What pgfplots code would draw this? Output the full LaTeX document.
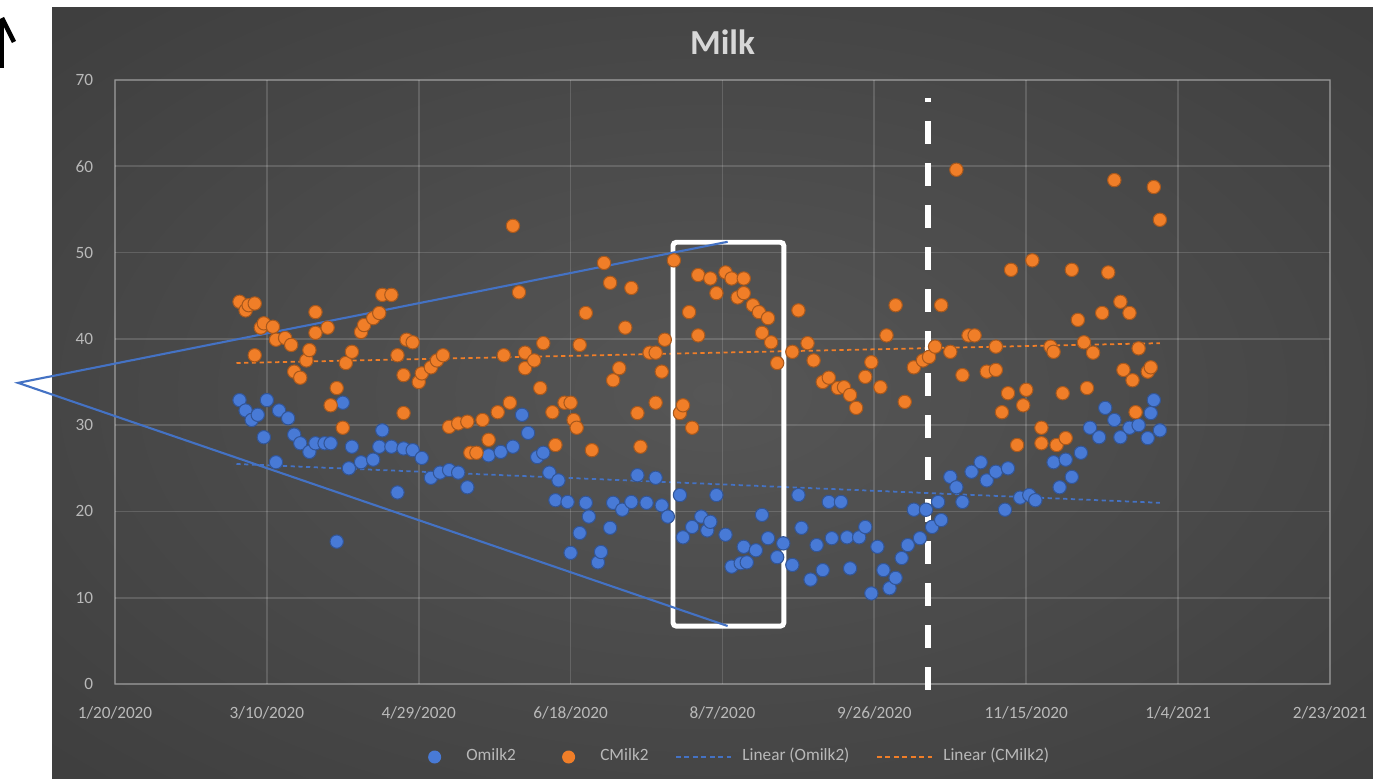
\documentclass[border=0pt]{standalone}
\usepackage{pgfplots}
\pgfplotsset{compat=1.18}
\usepackage{fontspec}
\setmainfont{Carlito}

\definecolor{cBlue}{RGB}{72,122,214}
\definecolor{cOrange}{RGB}{240,126,40}
\definecolor{tBlue}{RGB}{68,114,196}
\definecolor{bgC}{RGB}{86,86,86}
\definecolor{bgM}{RGB}{58,58,58}
\definecolor{bgE}{RGB}{36,36,36}
\definecolor{txt}{RGB}{185,185,185}
\definecolor{ttl}{RGB}{215,215,215}
\pgfdeclareradialshading{bgshade}{\pgfpoint{0bp}{0bp}}{color(0bp)=(bgC); color(42bp)=(bgM); color(72bp)=(bgE)}

\begin{document}
\begin{tikzpicture}
\useasboundingbox (0,0) rectangle (13.73,7.79);
\fill[white] (0,0) rectangle (13.73,7.79);
\shade[shading=bgshade] (0.52,0) rectangle (13.73,7.71);
% arrow in the corner
\draw[black, line width=1.3pt] (0.02,7.60) -- (0.02,7.11);
\draw[black, line width=1.3pt] (0.02,7.61) -- (0.14,7.37);

\begin{axis}[
    at={(1.15cm,0.95cm)}, anchor=south west,
    scale only axis,
    width=12.15cm, height=6.04cm,
    xmin=0, xmax=400, ymin=0, ymax=70,
    xtick={0,50,...,400},
    xticklabels={1/20/2020,3/10/2020,4/29/2020,6/18/2020,8/7/2020,9/26/2020,11/15/2020,1/4/2021,2/23/2021},
    ytick={0,10,...,70},
    grid=major,
    major grid style={white, opacity=0.15, line width=0.5pt},
    axis line style={white, opacity=0.2, line width=0.5pt},
    major tick length=0pt,
    tick label style={font=\fontsize{4.9}{6}\selectfont, text=txt},
    /pgf/number format/assume math mode=true,
    xticklabel style={anchor=base, yshift=-9.75pt},
    yticklabel style={anchor=east, xshift=-2.7pt},
    title={Milk},
    title style={font=\bfseries\fontsize{10}{12}\selectfont, text=ttl, at={(0.5,1)}, anchor=center, yshift=4.8pt},
    clip=false,
    legend style={at={(0.508,-0.1209)}, anchor=center, draw=none, fill=none,
        legend columns=4, font=\fontsize{4.9}{6}\selectfont, text=txt,
        /tikz/every odd column/.style={column sep=1pt},
        /tikz/every even column/.style={column sep=5.5pt}},
]
% Omilk2
\addplot[only marks, mark=*, mark size=1.9pt,
    mark options={fill=cBlue, draw=cBlue!70!black, line width=0.3pt},
    legend image code/.code={\path[draw=none] (-7.5pt,0) -- (6pt,0); \fill[cBlue, draw=none] (0,0) circle (1.85pt);}]
coordinates {
(41,32.9) (43,31.7) (45,30.6) (47,31.2) (49,28.6) (50,32.9) (53,25.7) (54,31.7) (57,30.8) (59,28.9)
(61,27.9) (64,26.9) (66,27.9) (69,27.9) (71,27.9) (73,16.5) (75,32.6) (77,25.0) (78,27.5) (81,25.7)
(85,26.0) (87,27.5) (88,29.4) (91,27.5) (93,22.2) (95,27.3) (98,27.1) (101,26.2) (104,23.9) (107,24.5)
(110,24.8) (113,24.5) (116,22.8) (123,26.5) (127,26.9) (131,27.5) (134,31.2) (136,29.1) (139,26.3) (141,26.8)
(143,24.5) (145,21.3) (146,23.6) (149,21.1) (150,15.2) (153,17.5) (155,21.0) (156,19.4) (159,14.1) (160,15.3)
(163,18.1) (164,21.0) (167,20.2) (170,21.1) (172,24.2) (175,21.0) (178,23.9) (180,20.7) (182,19.4) (186,21.9)
(187,17.0) (190,18.2) (193,19.4) (195,17.8) (196,18.8) (198,21.9) (201,17.3) (203,13.6) (206,14.0) (207,15.9)
(208,14.1) (211,15.5) (213,19.6) (215,16.9) (218,14.7) (220,16.3) (223,13.8) (225,21.9) (226,18.1) (229,12.1)
(231,16.1) (233,13.2) (235,21.1) (236,16.9) (239,21.1) (241,17.0) (242,13.4) (245,17.0) (247,18.2) (249,10.5)
(251,15.9) (253,13.2) (255,11.1) (257,12.3) (259,14.6) (261,16.1) (263,20.2) (265,16.9) (267,20.2) (269,18.2)
(271,21.1) (272,19.0) (275,24.0) (277,22.8) (279,21.1) (282,24.6) (285,25.7) (287,23.6) (290,24.6) (293,20.2)
(294,25.0) (298,21.6) (301,21.9) (303,21.3) (309,25.7) (311,22.8) (313,26.0) (315,24.0) (318,26.8) (321,29.7)
(324,28.6) (326,32.0) (329,30.6) (331,28.6) (334,29.7) (337,30.0) (340,28.5) (341,31.4) (342,32.9) (344,29.4)
};
\addlegendentry{Omilk2}
% CMilk2
\addplot[only marks, mark=*, mark size=1.9pt,
    mark options={fill=cOrange, draw=cOrange!70!black, line width=0.3pt},
    legend image code/.code={\path[draw=none] (-7.5pt,0) -- (6pt,0); \fill[cOrange, draw=none] (0,0) circle (1.85pt);}]
coordinates {
(41,44.3) (43,43.3) (44,43.9) (46,44.1) (46,38.1) (48,41.3) (49,41.8) (52,41.4) (53,39.9) (56,40.1)
(58,39.3) (59,36.2) (61,35.5) (63,37.5) (64,38.7) (66,43.1) (66,40.7) (70,41.3) (71,32.3) (73,34.3)
(75,29.7) (76,37.2) (78,38.5) (81,40.8) (82,41.6) (85,42.4) (87,43.0) (88,45.1) (91,45.1) (93,38.1)
(95,35.8) (95,31.4) (96,39.9) (98,39.6) (100,35.0) (101,36.0) (104,36.7) (106,37.5) (108,38.1) (110,29.8)
(113,30.2) (116,30.4) (117,26.8) (119,26.8) (121,30.6) (123,28.3) (126,31.5) (128,38.1) (130,32.6) (131,53.1)
(133,45.4) (135,38.4) (135,36.6) (138,37.5) (140,34.3) (141,39.5) (144,31.5) (145,27.7) (148,32.6) (150,32.6)
(151,30.6) (152,29.7) (153,39.3) (155,43.0) (157,27.1) (161,48.8) (163,46.5) (164,35.2) (166,36.6) (168,41.3)
(170,45.9) (172,31.4) (173,27.5) (176,38.4) (178,38.4) (178,32.6) (180,36.2) (181,39.9) (184,49.1) (186,31.4)
(187,32.3) (189,43.1) (190,29.7) (192,47.4) (192,40.4) (196,47.0) (198,45.3) (201,47.7) (203,47.0) (205,44.8)
(207,47.0) (207,45.3) (210,43.9) (212,43.1) (213,40.7) (215,42.4) (216,39.6) (218,37.2) (223,38.5) (225,43.3)
(228,39.5) (230,37.5) (233,35.0) (235,35.5) (238,34.3) (240,34.4) (242,33.5) (244,32.0) (247,35.6) (249,37.3)
(252,34.4) (254,40.4) (257,43.9) (260,32.7) (263,36.7) (266,37.5) (268,37.9) (270,39.1) (272,43.9) (275,38.5)
(277,59.6) (279,35.8) (281,40.4) (283,40.4) (287,36.2) (290,36.4) (290,39.1) (292,31.5) (294,33.7) (295,48.0)
(297,27.7) (299,32.3) (300,34.1) (302,49.1) (305,29.7) (305,27.9) (308,39.1) (309,38.5) (310,27.7) (312,33.7)
(313,28.5) (315,48.0) (317,42.2) (319,39.6) (320,34.3) (322,38.4) (325,43.0) (327,47.7) (329,58.4) (331,44.3)
(332,36.4) (334,43.0) (335,35.2) (336,31.5) (337,38.9) (340,36.2) (341,36.7) (342,57.6) (344,53.8)
};
\addlegendentry{CMilk2}
% trend lines
\addplot[tBlue, line width=0.5pt, dash pattern=on 1.2pt off 1pt,
    legend image code/.code={\draw[tBlue, line width=0.6pt, dash pattern=on 1.4pt off 1pt] (0,0) -- (15.6pt,0);}]
coordinates {(40,25.5) (344,21.0)};
\addlegendentry{Linear (Omilk2)}
\addplot[cOrange, line width=0.5pt, dash pattern=on 1.2pt off 1pt,
    legend image code/.code={\draw[cOrange, line width=0.6pt, dash pattern=on 1.4pt off 1pt] (0,0) -- (15.6pt,0);}]
coordinates {(40,37.2) (344,39.5)};
\addlegendentry{Linear (CMilk2)}

% annotations
\draw[white, line width=1.4pt, rounded corners=1pt] (axis cs:183.7,51.2) rectangle (axis cs:220.2,6.7);
\draw[white, line width=1.7pt, dash pattern=on 6.54pt off 5.41pt, dash phase=5.41pt]
    (axis cs:267.8,67.9) -- (axis cs:267.8,-1.74);
\draw[tBlue, line width=0.6pt] (axis cs:201.7,51.25) -- (axis cs:-31.9,34.9) -- (axis cs:201.7,6.72);
\end{axis}
\end{tikzpicture}
\end{document}
